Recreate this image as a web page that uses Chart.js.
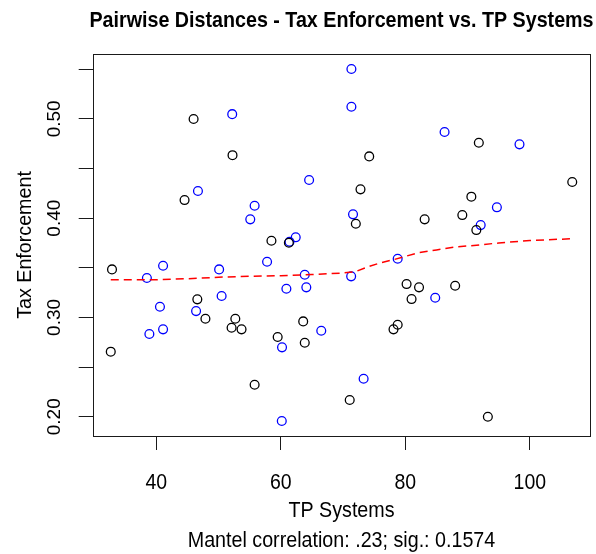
<!DOCTYPE html>
<html>
<head>
<meta charset="utf-8">
<script src="https://cdn.jsdelivr.net/npm/chart.js@4.4.1/dist/chart.umd.min.js"></script>
<style>
  html, body { margin: 0; padding: 0; background: #fff; }
  #wrap { width: 596px; height: 554px; }
</style>
</head>
<body>
<div id="wrap"><canvas id="c" width="596" height="554"></canvas></div>
<script>
// ---- data ----
const blackX = [46.0, 52.25, 44.55, 74.2, 72.8, 72.05, 83.1, 58.5, 61.3, 91.8, 106.8, 90.6, 89.15, 91.4,
  32.9, 46.6, 47.9, 52.7, 52.1, 53.7, 32.7, 55.8, 80.2, 82.2, 81.0, 63.6, 59.5, 63.85, 78.77, 78.1, 71.07, 88.0, 93.25];
const blackY = [0.4998, 0.4634, 0.4182, 0.4622, 0.429, 0.3944, 0.3988, 0.3772, 0.3752, 0.4759, 0.4364, 0.4216, 0.4031, 0.388,
  0.3484, 0.3182, 0.2987, 0.2987, 0.2896, 0.288, 0.2655, 0.2322, 0.3336, 0.3303, 0.3185, 0.296, 0.2803, 0.2745, 0.2926, 0.288, 0.2168, 0.3319, 0.2];
const blueX = [52.2, 46.7, 55.8, 55.1, 71.34, 71.34, 64.55, 71.6, 62.4, 61.4, 86.3, 98.33, 94.7, 92.1,
  41.1, 38.5, 50.1, 50.5, 40.6, 46.4, 41.1, 38.9, 57.8, 63.85, 71.3, 78.77, 60.9, 64.1, 66.5, 60.2, 73.3, 60.16, 84.8];
const blueY = [0.5047, 0.4273, 0.4125, 0.3988, 0.5502, 0.5122, 0.4384, 0.4038, 0.3807, 0.3762, 0.4867, 0.4743, 0.4109, 0.393,
  0.352, 0.3397, 0.3484, 0.3216, 0.3108, 0.3064, 0.288, 0.2833, 0.3561, 0.343, 0.3414, 0.3591, 0.3289, 0.3303, 0.2866, 0.2699, 0.2383, 0.1957, 0.3198];
const smoothX = [32.7, 40, 45, 50, 55, 60, 65, 70, 72, 74, 76, 78, 80, 82, 85, 88, 91, 95, 100, 106.8];
const smoothY = [0.338, 0.338, 0.339, 0.3405, 0.3415, 0.342, 0.3432, 0.3448, 0.3462, 0.351, 0.355, 0.358, 0.3615, 0.365, 0.368, 0.371, 0.3725, 0.375, 0.3775, 0.3793];
const xTicks = [40, 60, 80, 100];
const xTickLabels = ['40', '60', '80', '100'];
const yTicks = [0.20, 0.25, 0.30, 0.35, 0.40, 0.45, 0.50, 0.55];
const yTickLabels = ['0.20', '', '0.30', '', '0.40', '', '0.50', ''];

const titleText = 'Pairwise Distances - Tax Enforcement vs. TP Systems';
const xTitle = 'TP Systems';
const yTitle = 'Tax Enforcement';
const subText = 'Mantel correlation: .23; sig.: 0.1574';

const FONT = "'Liberation Sans', Arial, sans-serif";
const INK = '#1a1a1a';
const VS = 1.1; // glyphs in the reference are slightly taller than wide

const toPts = (xs, ys) => xs.map((x, i) => ({ x: x, y: ys[i] }));

function hText(ctx, txt, x, y) {
  ctx.save();
  ctx.translate(x, y);
  ctx.scale(1, VS);
  ctx.fillText(txt, 0, 0);
  ctx.restore();
}

const textPlugin = {
  id: 'rtext',
  afterDraw(chart) {
    const ctx = chart.ctx;
    const a = chart.chartArea;
    const xs = chart.scales.x;
    const ys = chart.scales.y;
    ctx.save();
    // plot box
    ctx.strokeStyle = INK;
    ctx.lineWidth = 1;
    ctx.strokeRect(Math.round(a.left) + 0.5, Math.round(a.top) + 0.5,
      Math.round(a.right - a.left) - 1, Math.round(a.bottom - a.top));
    const cx = (a.left + a.right) / 2;
    ctx.fillStyle = '#000';
    ctx.textAlign = 'center';
    ctx.textBaseline = 'alphabetic';
    // title
    ctx.font = 'bold 19.7px ' + FONT;
    hText(ctx, titleText, cx, 27.3);
    // x tick labels
    ctx.font = '19.5px ' + FONT;
    xTicks.forEach((v, i) => {
      hText(ctx, xTickLabels[i], xs.getPixelForValue(v), 489);
    });
    // x title & subtitle
    ctx.font = '19.7px ' + FONT;
    hText(ctx, xTitle, cx, 517.3);
    hText(ctx, subText, cx, 546.5);
    // y title
    ctx.save();
    ctx.translate(31, (a.top + a.bottom) / 2);
    ctx.rotate(-Math.PI / 2);
    ctx.fillText(yTitle, 0, 0);
    ctx.restore();
    // y tick labels (rotated like R)
    ctx.font = '19px ' + FONT;
    yTicks.forEach((v, i) => {
      if (!yTickLabels[i]) return;
      const py = ys.getPixelForValue(v);
      ctx.save();
      ctx.translate(59.5, py);
      ctx.rotate(-Math.PI / 2);
      ctx.fillText(yTickLabels[i], 0, 0);
      ctx.restore();
    });
    ctx.restore();
  }
};

new Chart(document.getElementById('c'), {
  type: 'scatter',
  data: {
    datasets: [
      {
        type: 'line',
        data: toPts(smoothX, smoothY),
        borderColor: '#ff0000',
        borderWidth: 1.5,
        borderDash: [8, 5],
        pointRadius: 0,
        fill: false,
        tension: 0
      },
      {
        data: toPts(blackX, blackY),
        pointStyle: 'circle',
        pointRadius: 4.4,
        pointBorderWidth: 1.3,
        borderColor: '#000000',
        backgroundColor: 'rgba(0,0,0,0)'
      },
      {
        data: toPts(blueX, blueY),
        pointStyle: 'circle',
        pointRadius: 4.4,
        pointBorderWidth: 1.3,
        borderColor: '#0000ff',
        backgroundColor: 'rgba(0,0,0,0)'
      }
    ]
  },
  options: {
    responsive: false,
    animation: false,
    devicePixelRatio: 1,
    layout: { padding: { left: 0, right: 5, top: 54, bottom: 0 } },
    plugins: { legend: { display: false }, tooltip: { enabled: false }, title: { display: false } },
    scales: {
      x: {
        type: 'linear',
        min: 29.8,
        max: 109.7,
        afterBuildTicks: (s) => { s.ticks = xTicks.map(v => ({ value: v })); },
        afterFit: (s) => { s.height = 118; },
        grid: { drawOnChartArea: false, drawTicks: true, tickLength: 14, color: INK, lineWidth: 1 },
        border: { display: false },
        ticks: { display: false }
      },
      y: {
        type: 'linear',
        min: 0.1806,
        max: 0.5653,
        afterBuildTicks: (s) => { s.ticks = yTicks.map(v => ({ value: v })); },
        afterFit: (s) => { s.width = 92.7; },
        grid: { drawOnChartArea: false, drawTicks: true, tickLength: 14, color: INK, lineWidth: 1 },
        border: { display: false },
        ticks: { display: false }
      }
    }
  },
  plugins: [textPlugin]
});
</script>
</body>
</html>
